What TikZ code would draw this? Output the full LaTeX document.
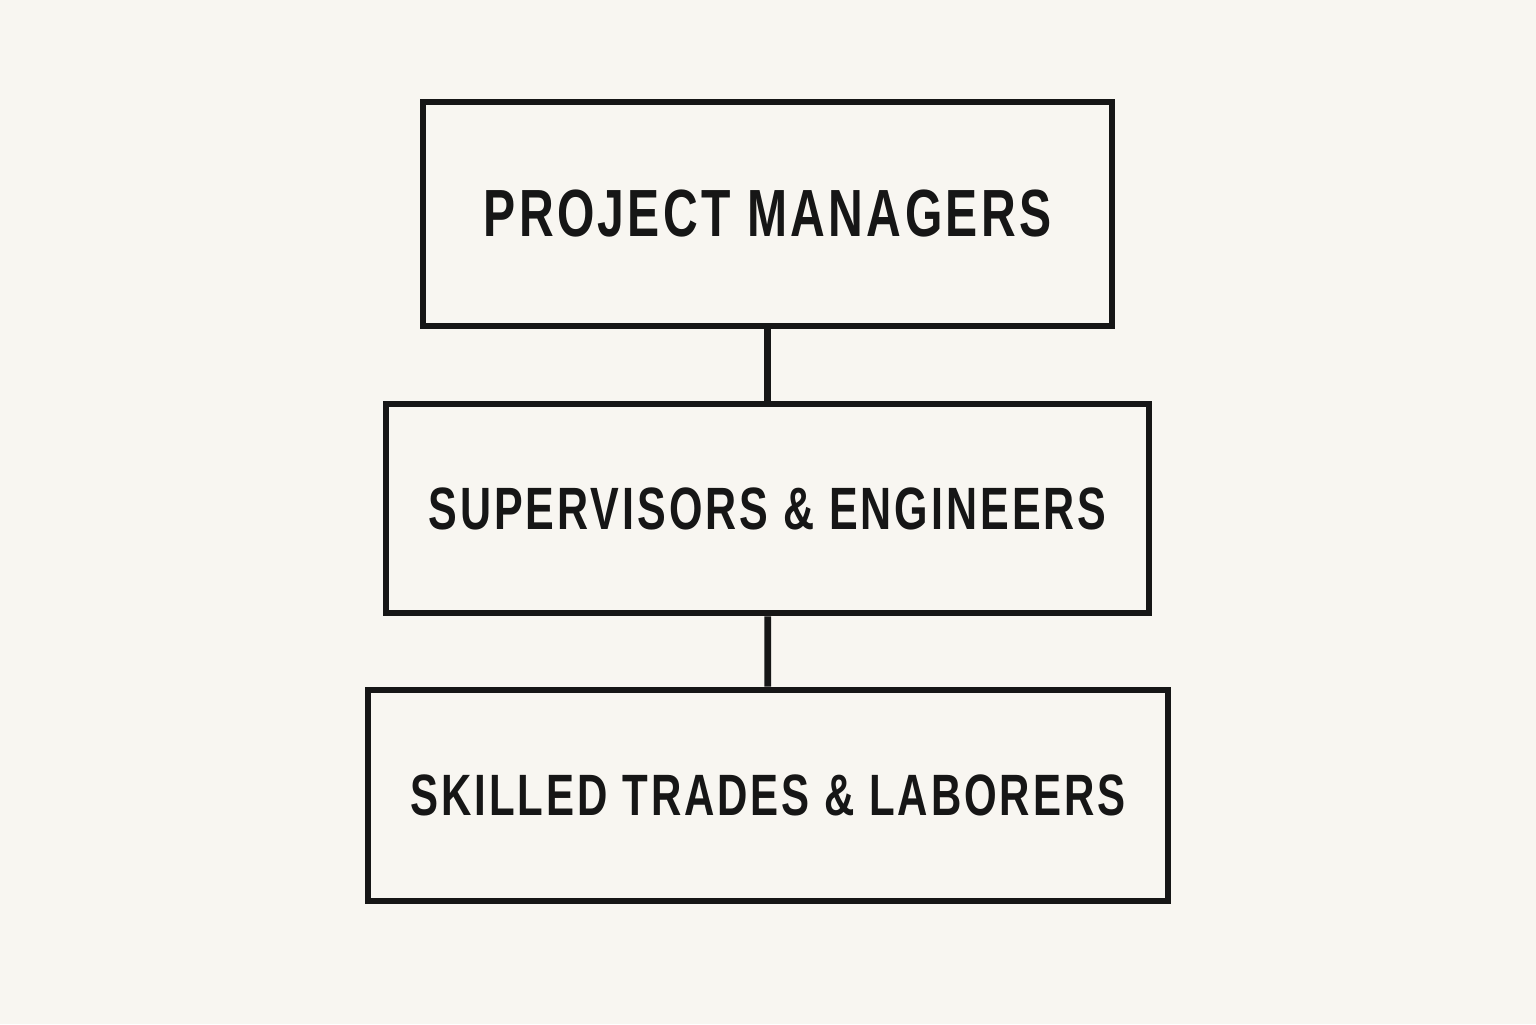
\documentclass[tikz,border=0pt]{standalone}
\usepackage{fontspec}
\setmainfont{Liberation Sans}
\newfontfamily\labelfont[FakeStretch=0.72,LetterSpace=5]{Liberation Sans Bold}
\usetikzlibrary{positioning}
\definecolor{paper}{HTML}{F8F6F1}
\definecolor{ink}{HTML}{161616}
\tikzstyle{level} = [rectangle, draw=ink, line width=1.9pt, text=ink, text centered, inner sep=0pt, font=\labelfont]
\tikzstyle{link} = [draw=ink, line width=1.9pt]

\begin{document}
\begin{tikzpicture}

    % Background
    \fill[paper] (0,0) rectangle (15.36,-10.24);
    \useasboundingbox (0,0) rectangle (15.36,-10.24);

    % Nodes
    \node (managers) [level, minimum width=6.89cm, minimum height=2.24cm] at (7.675,-2.14) {\fontsize{19}{22}\selectfont PROJECT MANAGERS};
    \node (supervisors) [level, minimum width=7.63cm, minimum height=2.09cm] at (7.675,-5.085) {\fontsize{17}{20}\selectfont SUPERVISORS \& ENGINEERS};
    \node (trades) [level, minimum width=8.00cm, minimum height=2.11cm] at (7.68,-7.955) {\fontsize{16.6}{20}\selectfont SKILLED TRADES \& LABORERS};

    % Lines
    \draw [link] (managers) -- (supervisors);
    \draw [link] (supervisors) -- (trades);

\end{tikzpicture}
\end{document}
